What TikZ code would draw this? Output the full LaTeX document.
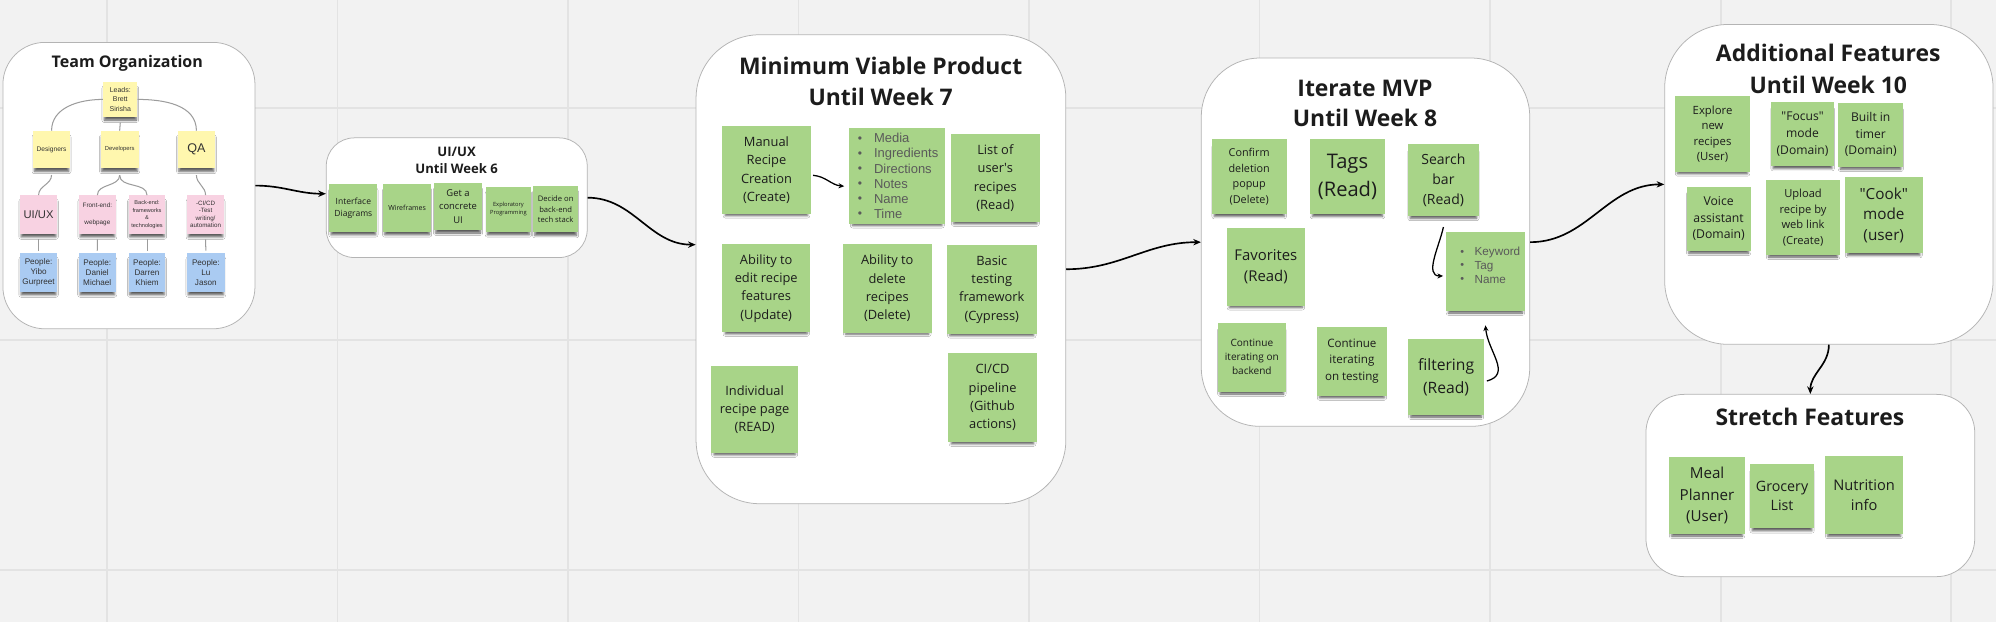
\documentclass[tikz,border=0pt]{standalone}
\usepackage{fontspec}
\setmainfont{Open Sans}
\newfontfamily\arialf{Liberation Sans}
\usetikzlibrary{arrows.meta,shadows.blur}
\definecolor{bg}{HTML}{F2F2F2}
\definecolor{gridc}{HTML}{E3E3E3}
\definecolor{framec}{HTML}{B4B4B4}
\definecolor{stgreen}{HTML}{A8D488}
\definecolor{styellow}{HTML}{FFF7AE}
\definecolor{stpink}{HTML}{F8D2E2}
\definecolor{stblue}{HTML}{AACBF2}
\definecolor{txt}{HTML}{1C1C1C}
\definecolor{listgray}{HTML}{5A5A5A}
\definecolor{linkgray}{HTML}{9C9C9C}
\newcommand\fsz[2]{\fontsize{#1pt}{#2pt}\selectfont}
\newcommand\qq{\textquotedbl}
\newcommand\bulA{\makebox[12pt][l]{\hspace*{-0.6pt}\fsz{9.5}{11.85}\raisebox{0.6pt}{•}}}
\newcommand\bulB{\makebox[10.6pt][l]{\hspace*{-0.5pt}\fsz{8.5}{10.75}\raisebox{0.5pt}{•}}}
\begin{document}
\begin{tikzpicture}[x=1pt,y=-1pt,
  frame/.style={draw=framec, line width=0.6pt, fill=white, rectangle, inner sep=0pt, anchor=north west},
  sticky/.style={rectangle, inner sep=0pt, align=center, text=txt,
     blur shadow={shadow xshift=0pt, shadow yshift=-4pt, shadow scale=0.93, shadow blur radius=2pt, shadow opacity=65}},
  gst/.style={sticky, fill=stgreen},
  yst/.style={sticky, fill=styellow, text=black!80, font=\arialf},
  pst/.style={sticky, fill=stpink, text=black!80, font=\arialf},
  bst/.style={sticky, fill=stblue, text=black!80, font=\arialf},
  ttl/.style={text=txt, align=center, inner sep=0pt},
  flow/.style={line width=1.3pt, -{Stealth[length=6pt,width=5pt]}},
  innerarrow/.style={line width=1pt, -{Stealth[length=4.5pt,width=4pt]}},
  org/.style={draw=linkgray, line width=0.8pt},
]
\useasboundingbox (0,0) rectangle (1568,489);
\fill[bg] (0,0) rectangle (1568,489);
\foreach \gx in {84,265.1,446.2,627.3,808.4,989.5,1170.6,1351.7,1532.8}
  \draw[gridc, line width=1.3pt] (\gx,0) -- (\gx,489);
\foreach \gy in {85,267,448}
  \draw[gridc, line width=1.3pt] (0,\gy) -- (1568,\gy);

% ---------- frames ----------
\node[frame, rounded corners=33pt, minimum width=198, minimum height=225] (team) at (2,33) {};
\node[frame, rounded corners=22pt, minimum width=205, minimum height=94] (uiux) at (256,108) {};
\node[frame, rounded corners=50pt, minimum width=290.5, minimum height=368.4] (mvp) at (546.5,27) {};
\node[frame, rounded corners=46pt, minimum width=258, minimum height=289.3] (iter) at (943.4,45.3) {};
\node[frame, rounded corners=50pt, minimum width=258, minimum height=251.3] (add) at (1307.4,18.9) {};
\node[frame, rounded corners=30pt, minimum width=258.3, minimum height=143.2] (stretch) at (1292.7,309.5) {};

% ---------- titles ----------
\node[ttl, font=\bfseries\fsz{12.6}{15}] (teamt) at (100,49.6) {Team Organization};
\node[ttl, font=\bfseries\fsz{10.3}{13.8}] (uiuxt) at (358.7,126.1) {UI/UX\\Until Week 6};
\node[ttl, font=\bfseries\fsz{18}{24.2}] (mvpt) at (691.8,63.9) {Minimum Viable Product\\Until Week 7};
\node[ttl, font=\bfseries\fsz{18}{23.6}] (itert) at (1072.3,81.2) {Iterate MVP\\Until Week 8};
\node[ttl, font=\bfseries\fsz{18}{24.9}] (addt) at (1436.2,54.3) {Additional Features\\Until Week 10};
\node[ttl, font=\bfseries\fsz{18}{22}] (strt) at (1421.8,327.8) {Stretch Features};

% ---------- team organization ----------
\node[yst, minimum width=27, minimum height=27, font=\arialf\fsz{5.5}{7.5}] (leads) at (94.5,78.1) {Leads:\\Brett\\Sirisha};
\node[yst, minimum width=29, minimum height=29, font=\arialf\fsz{5.2}{6.5}] (des) at (40.5,117.4) {Designers};
\node[yst, minimum width=30, minimum height=29, font=\arialf\fsz{4.6}{6}] (dev) at (94,117.4) {Developers};
\node[yst, minimum width=29.5, minimum height=29, font=\arialf\fsz{9.9}{11}] (qa) at (154.3,117.4) {QA};
\node[pst, minimum width=29.4, minimum height=30, font=\arialf\fsz{8.8}{10}] (uip) at (30.3,168.5) {UI/UX};
\node[pst, minimum width=29, minimum height=30, font=\arialf\fsz{5}{6.5}] (fe) at (76.5,168.5) {Front-end:\\\mbox{}\\webpage};
\node[pst, minimum width=29, minimum height=30, font=\arialf\fsz{4.4}{5.9}] (be) at (115.5,168.5) {Back-end:\\frameworks\\\&\\technologies};
\node[pst, minimum width=29, minimum height=30, font=\arialf\fsz{4.9}{5.9}] (ci) at (161.5,168.5) {-CI/CD\\-Test\\writing/\\automation};
\node[bst, minimum width=29.4, minimum height=30, font=\arialf\fsz{6.4}{7.9}] (p1) at (30.3,214) {People:\\Yibo\\Gurpreet};
\node[bst, minimum width=29, minimum height=30, font=\arialf\fsz{6.4}{7.9}] (p2) at (76.4,214) {People:\\Daniel\\Michael};
\node[bst, minimum width=29, minimum height=30, font=\arialf\fsz{6.4}{7.9}] (p3) at (115.5,214) {People:\\Darren\\Khiem};
\node[bst, minimum width=29.8, minimum height=30, font=\arialf\fsz{6.4}{7.9}] (p4) at (161.7,214) {People:\\Lu\\Jason};

\draw[org] (leads.west) to[out=180,in=90] (des.north);
\draw[org] (leads.east) to[out=0,in=90] (qa.north);
\draw[org] ([yshift=-4.5pt]leads.south) -- (dev.north);
\draw[org] ([yshift=-5.4pt]des.south) to[out=-90,in=90] (uip.north);
\draw[org] ([yshift=-5.5pt]dev.south) to[out=-90,in=90] (fe.north);
\draw[org] ([yshift=-5.5pt]dev.south) to[out=-90,in=90] (be.north);
\draw[org] ([yshift=-5.5pt]qa.south) to[out=-90,in=90] (ci.north);
\draw[org] ([yshift=-4.4pt]uip.south) -- ([yshift=2pt]p1.north);
\draw[org] ([yshift=-4.4pt]fe.south) -- ([yshift=2pt]p2.north);
\draw[org] ([yshift=-4.4pt]be.south) -- ([yshift=2pt]p3.north);
\draw[org] ([yshift=-4.4pt]ci.south) -- ([yshift=2pt]p4.north);

% ---------- UI/UX ----------
\node[gst, minimum width=37.7, minimum height=37.5, font=\fsz{6.7}{9.3}] (s1) at (277.6,163.3) {Interface\\Diagrams};
\node[gst, minimum width=37.6, minimum height=37.5, font=\fsz{5.5}{7}] (s2) at (319.8,163.3) {Wireframes};
\node[gst, minimum width=37.6, minimum height=36.6, font=\fsz{7.4}{10.4}] (s3) at (359.8,162.3) {Get a\\concrete\\UI};
\node[gst, minimum width=35.2, minimum height=35, font=\fsz{4.5}{6.2}] (s4) at (399.4,164.5) {Exploratory\\Programming};
\node[gst, minimum width=35, minimum height=36.5, font=\fsz{6}{8}] (s5) at (436.5,164.3) {Decide on\\back-end\\tech stack};

% ---------- MVP ----------
\node[gst, minimum width=69.4, minimum height=69.1, font=\fsz{10.1}{14.4}] (manual) at (602.1,133.6) {Manual\\Recipe\\Creation\\(Create)};
\node[gst, minimum width=75.4, minimum height=75.4] (bul) at (704.9,138.5) {};
\node[anchor=west, inner sep=0pt, align=left, text=listgray, font=\arialf\fsz{10.2}{11.85}] (bultext) at (674.4,138.2)
  {\bulA Media\\\bulA Ingredients\\\bulA Directions\\\bulA Notes\\\bulA Name\\\bulA Time};
\node[gst, minimum width=70.2, minimum height=69.3, font=\fsz{10.1}{14.4}] (list) at (781.9,140) {List of\\user\textquotesingle s\\recipes\\(Read)};
\node[gst, minimum width=69, minimum height=69.3, font=\fsz{10.1}{14.4}] (edit) at (601.9,226.4) {Ability to\\edit recipe\\features\\(Update)};
\node[gst, minimum width=70, minimum height=69.5, font=\fsz{10.1}{14.4}] (delete) at (697,226.5) {Ability to\\delete\\recipes\\(Delete)};
\node[gst, minimum width=70.7, minimum height=70, font=\fsz{10.1}{14.4}] (basic) at (779.1,227.5) {Basic\\testing\\framework\\(Cypress)};
\node[gst, minimum width=68.6, minimum height=68.5, font=\fsz{10.1}{14.4}] (indiv) at (592.8,321.8) {Individual\\recipe page\\(READ)};
\node[gst, minimum width=69.4, minimum height=70, font=\fsz{10.1}{14.4}] (cicd) at (779.7,312.5) {CI/CD\\pipeline\\(Github\\actions)};
\draw[innerarrow] ([xshift=1.7pt,yshift=-4.1pt]manual.east) to[out=-5,in=175] ([xshift=-3.8pt,yshift=-7.8pt]bul.west);

% ---------- Iterate MVP ----------
\node[gst, minimum width=59, minimum height=59, font=\fsz{8.5}{12.3}] (confirm) at (981.3,138.9) {Confirm\\deletion\\popup\\(Delete)};
\node[gst, minimum width=59, minimum height=59, font=\fsz{15.8}{21.5}] (tags) at (1058.5,138.9) {Tags\\(Read)};
\node[gst, minimum width=56.2, minimum height=56.3, font=\fsz{11}{15.5}] (search) at (1133.9,141.6) {Search\\bar\\(Read)};
\node[gst, minimum width=61.5, minimum height=61.3, font=\fsz{11.7}{16.5}] (fav) at (994.4,209.5) {Favorites\\(Read)};
\node[gst, minimum width=62.3, minimum height=62.3] (kw) at (1166.9,213.2) {};
\node[anchor=west, inner sep=0pt, align=left, text=listgray, font=\arialf\fsz{9.2}{10.75}] (kwtext) at (1147.6,208.4)
  {\bulB Keyword\\\bulB Tag\\\bulB Name};
\node[gst, minimum width=53.8, minimum height=54.2, font=\fsz{7.9}{11.1}] (cont1) at (983.4,280.6) {Continue\\iterating on\\backend};
\node[gst, minimum width=54.5, minimum height=54.2, font=\fsz{9.1}{12.8}] (cont2) at (1062,283.7) {Continue\\iterating\\on testing};
\node[gst, minimum width=59.5, minimum height=59.5, font=\fsz{12.3}{17.5}] (filt) at (1136,296.3) {filtering\\(Read)};
\draw[innerarrow] ([yshift=-8.4pt]search.south) to[out=-102,in=180] ([xshift=-1.9pt,yshift=-3.6pt]kw.west);
\draw[innerarrow] ([xshift=2.1pt,yshift=-3pt]filt.east) to[out=15,in=-85,looseness=1.2] ([yshift=-11pt]kw.south);

% ---------- Additional Features ----------
\node[gst, minimum width=58.9, minimum height=59.5, font=\fsz{8.9}{12.2}] (explore) at (1345.3,105.2) {Explore\\new\\recipes\\(User)};
\node[gst, minimum width=49.7, minimum height=50.3, font=\fsz{9.5}{13.1}] (focus) at (1416,105.3) {\qq Focus\qq\\mode\\(Domain)};
\node[gst, minimum width=51, minimum height=50.3, font=\fsz{9.5}{13.1}] (timer) at (1469.6,105.8) {Built in\\timer\\(Domain)};
\node[gst, minimum width=50.2, minimum height=50.3, font=\fsz{9.6}{13.1}] (voice) at (1350.1,171.8) {Voice\\assistant\\(Domain)};
\node[gst, minimum width=58.1, minimum height=58.9, font=\fsz{8.75}{12.1}] (upload) at (1416.4,170.9) {Upload\\recipe by\\web link\\(Create)};
\node[gst, minimum width=61, minimum height=59.7, font=\fsz{12}{16.4}] (cook) at (1479.8,169.2) {\qq Cook\qq\\mode\\(user)};

% ---------- Stretch ----------
\node[gst, minimum width=59.7, minimum height=60.2, font=\fsz{11.9}{16.8}] (meal) at (1341,389.4) {Meal\\Planner\\(User)};
\node[gst, minimum width=50.3, minimum height=50.2, font=\fsz{11.2}{14.9}] (grocery) at (1399.9,389.9) {Grocery\\List};
\node[gst, minimum width=61.5, minimum height=61.7, font=\fsz{11.5}{16.2}] (nutri) at (1464.4,388.9) {Nutrition\\info};

% ---------- flow ----------
\draw[flow] (team.east) to[out=0,in=180] ([yshift=3.1pt]uiux.west);
\draw[flow] (uiux.east) to[out=0,in=180] ([yshift=19.3pt]mvp.west);
\draw[flow] (mvp.east) to[out=0,in=180] (iter.west);
\draw[flow] (iter.east) to[out=0,in=180] (add.west);
\draw[flow] (add.south) to[out=-90,in=90] (stretch.north);
\end{tikzpicture}
\end{document}
